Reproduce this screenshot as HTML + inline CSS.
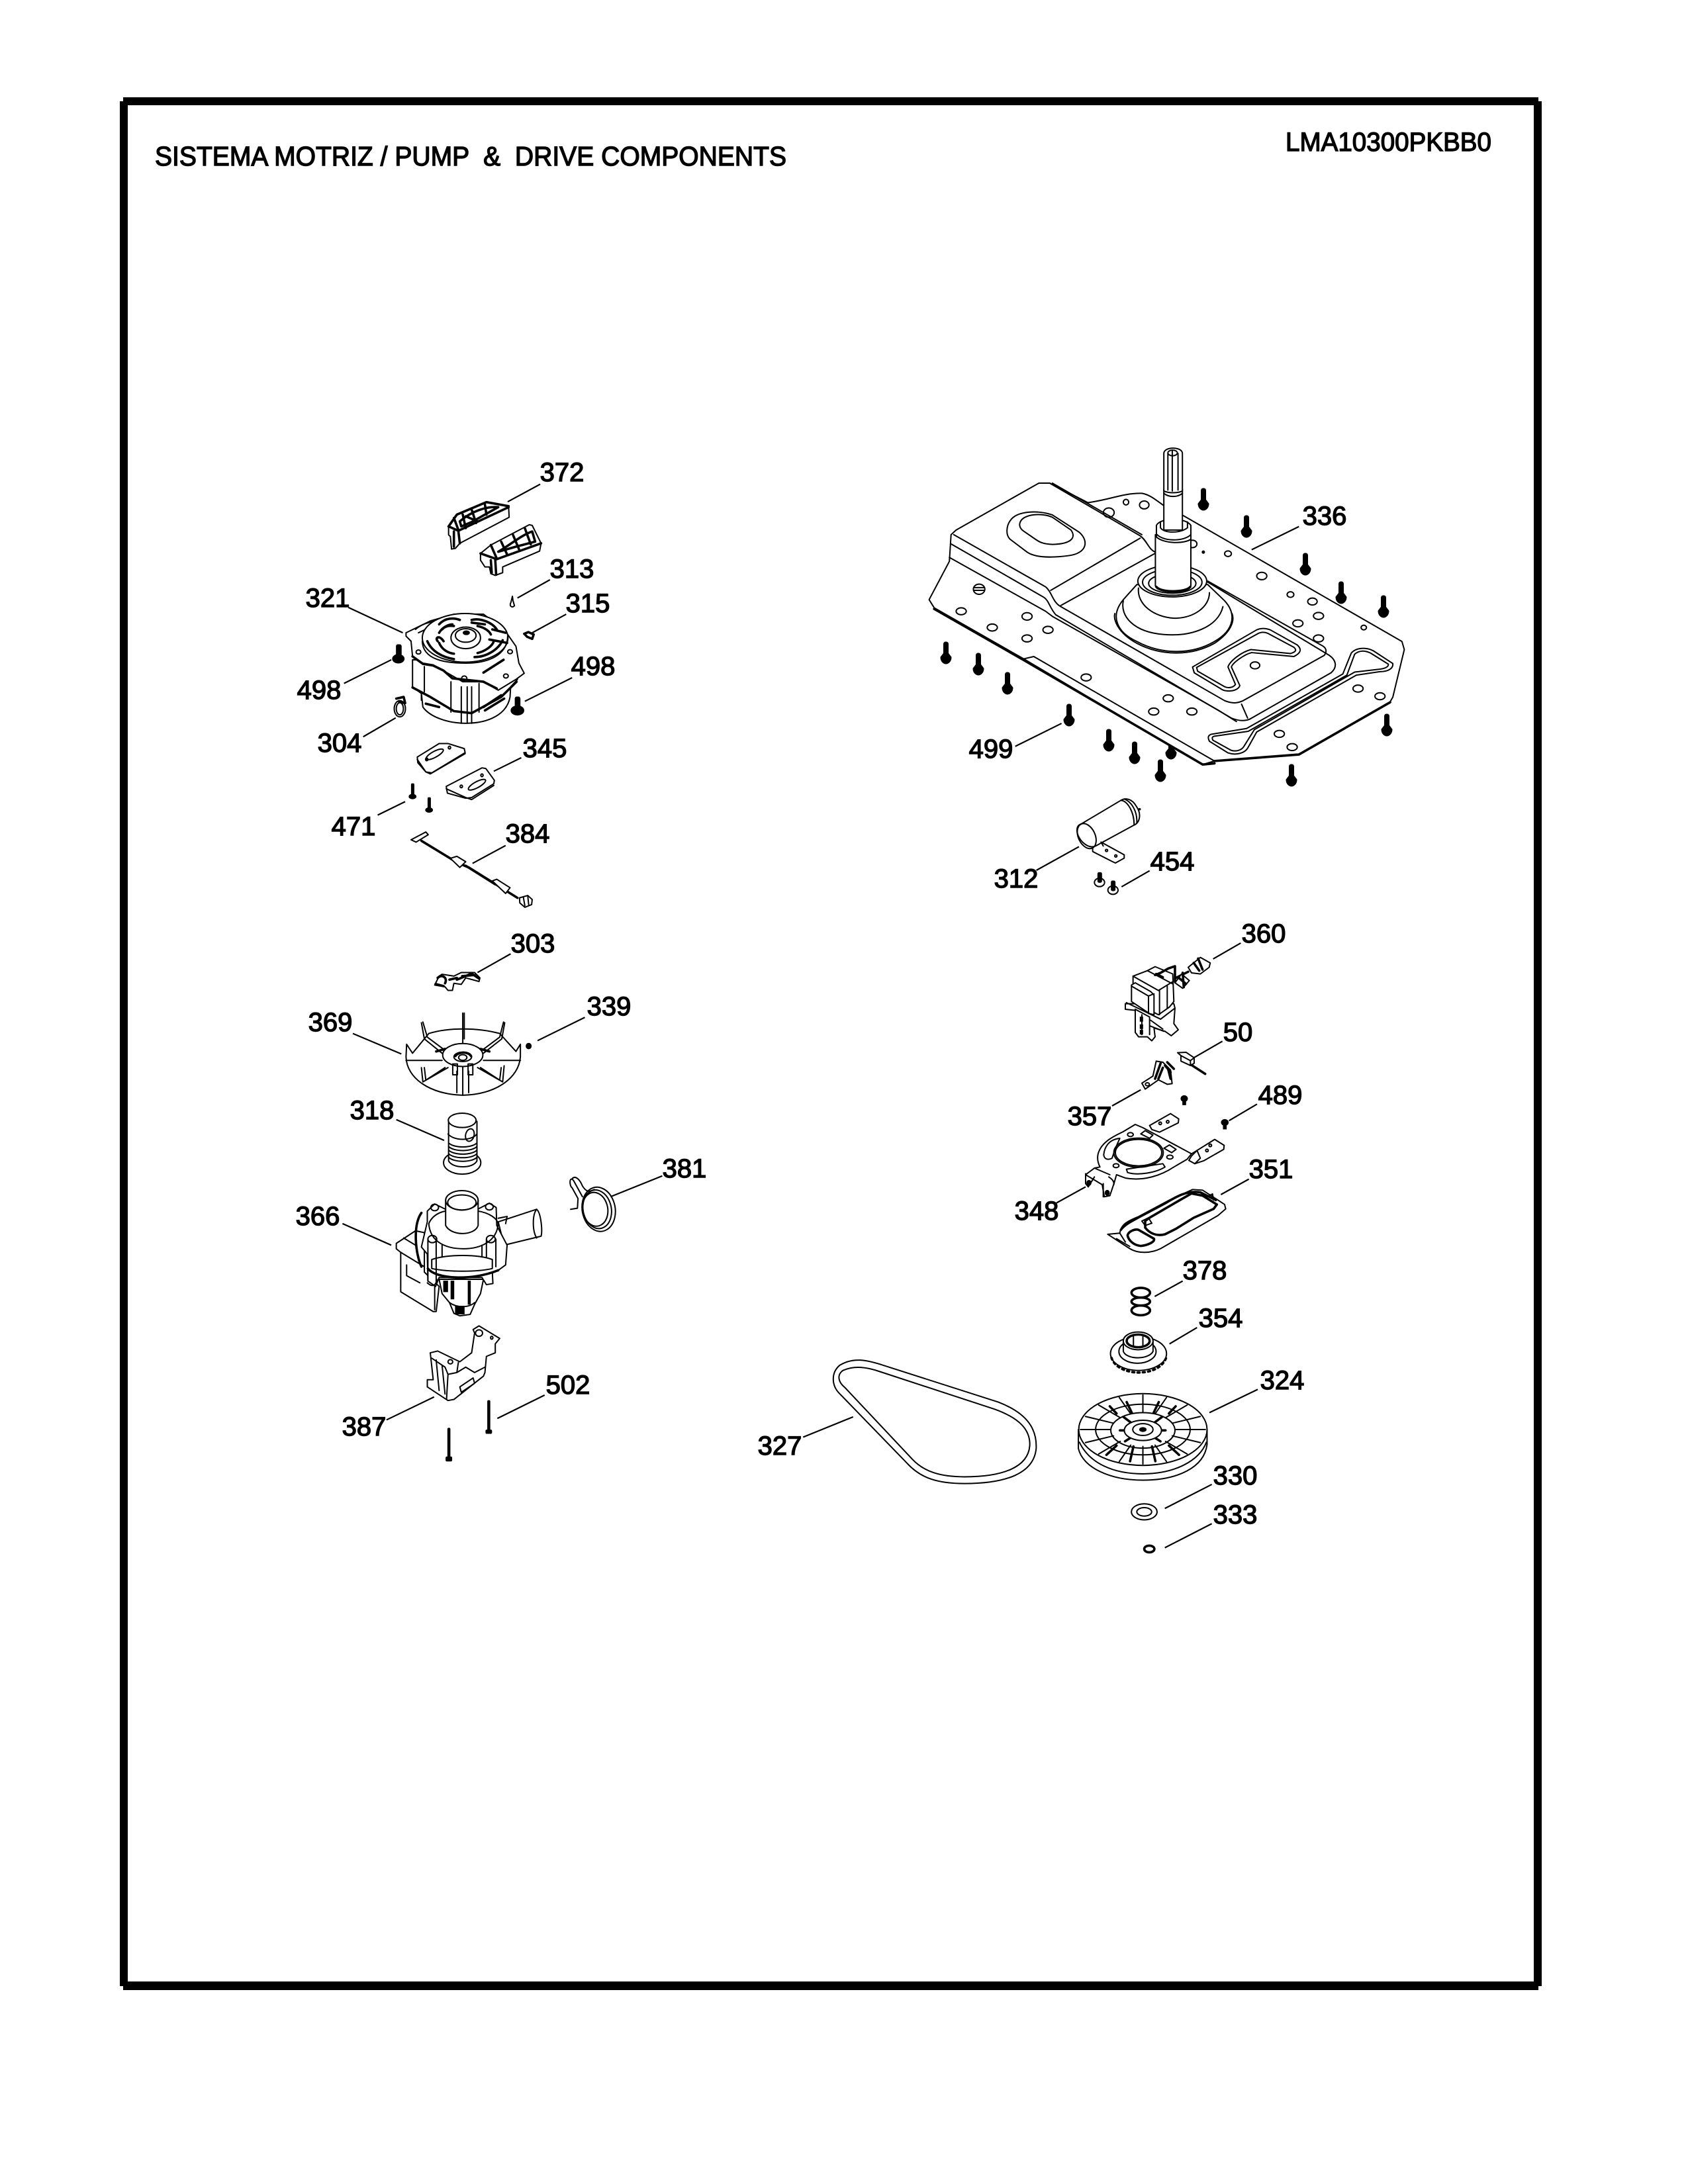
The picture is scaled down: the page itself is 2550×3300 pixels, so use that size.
<!DOCTYPE html>
<html><head><meta charset="utf-8"><style>
html,body{margin:0;padding:0;background:#fff}
svg{display:block}
.l,.l *{fill:#fff;stroke:#000;stroke-width:2;stroke-linejoin:round;stroke-linecap:round;vector-effect:non-scaling-stroke}
.n,.n *{fill:none;stroke:#000;stroke-width:2;stroke-linejoin:round;stroke-linecap:round;vector-effect:non-scaling-stroke}
.b,.b *{fill:none;stroke:#000;stroke-width:3.6;stroke-linejoin:round;stroke-linecap:round;vector-effect:non-scaling-stroke}
.k,.k *{fill:#000;stroke:#000;stroke-width:1;vector-effect:non-scaling-stroke}
text{font-family:"Liberation Sans",Arial,sans-serif;fill:#000;stroke:#000;stroke-width:1.4}
.t{font-size:40px;text-anchor:middle}
</style></head><body>
<svg width="2550" height="3300" viewBox="0 0 2550 3300" xmlns="http://www.w3.org/2000/svg">
<defs>
<g id="s" class="k"><rect x="-3.5" y="-17" width="7" height="20" rx="3"/><path d="M-3.5,0 L-8,6 C-8,13 -3,16 0,16 C3,16 8,13 8,6 L3.5,0 Z"/></g>
</defs>
<rect width="2550" height="3300" fill="#fff"/>
<!-- frame -->
<g fill="#000"><rect x="186" y="147" width="2138" height="12"/><rect x="181" y="153" width="12" height="2848"/><rect x="2317" y="153" width="12" height="2848"/><rect x="186" y="2994" width="2138" height="13"/></g>
<text x="234" y="250" font-size="41" textLength="954" lengthAdjust="spacingAndGlyphs" xml:space="preserve">SISTEMA MOTRIZ / PUMP  &amp;  DRIVE COMPONENTS</text>
<text x="1942" y="228" font-size="40" textLength="311" lengthAdjust="spacingAndGlyphs">LMA10300PKBB0</text>

<!-- screws behind plate -->
<use href="#s" x="1769" y="1131"/>

<!-- PLATE 336 -->
<g transform="translate(1350,650) scale(.5102,.3508)">
<g class="l"><path d="M430,228 L462,228 L575,312 C640,300 680,270 735,272 C760,278 780,305 800,325 L860,370 L1505,910 L1512,945 L1478,1150 L1470,1170 L1200,1395 L950,1425 L915,1440 L385,985 L120,765 L105,730 L165,565 L170,450 L185,430 Z"/></g>
<g class="n">
<path d="M170,490 L445,720 C460,735 462,765 480,795 L1000,1240 C1030,1258 1050,1250 1060,1240 L1295,1045 C1315,1020 1310,990 1290,970 L925,650"/>
<path d="M165,548 L450,780 L470,802 L960,1205 L1015,1255"/>
<path d="M178,450 L450,675 C470,700 470,740 495,760 L980,1165 C1005,1180 1020,1175 1035,1165 L1275,970 C1285,950 1280,935 1265,925 L930,650"/>
<path d="M465,690 L730,465"/><path d="M495,755 L775,530"/>
<path d="M462,228 L730,455 C750,475 755,515 775,525"/>
<path d="M470,228 L735,450"/><path d="M1030,1180 L1048,1240"/>
<path d="M345,390 C365,345 430,345 470,365 L550,440 C580,480 570,530 520,540 C470,550 420,550 395,525 L345,470 C330,450 335,410 345,390 Z"/>
<path d="M375,395 C385,360 440,355 470,375 L525,430 C540,460 530,490 470,492 C440,490 430,480 420,470 L385,435 C375,425 370,410 375,395 Z"/>
<path d="M885,1020 L1075,860 C1090,850 1105,855 1115,860 L1195,925 C1210,945 1205,960 1185,975 L1060,958 C1040,965 1005,1000 1000,1020 L1025,1100 C1020,1125 985,1130 970,1115 L890,1045 Z"/>
<path d="M897,1022 L1080,875 C1090,868 1100,870 1108,875 L1185,935 C1195,948 1190,955 1175,962 L1058,945 C1030,955 995,995 990,1020 L1012,1095 C1005,1110 990,1112 980,1105 L900,1038 Z"/>
<path d="M940,1310 L1045,1285 L1330,1050 L1355,960 C1370,935 1400,935 1420,950 L1478,1005 C1480,1030 1460,1040 1440,1040 L1370,1055 L1075,1300 L1050,1365 C1040,1395 1010,1400 990,1390 L935,1340 C930,1325 930,1315 940,1310 Z"/>
<path d="M950,1318 L1050,1297 L1342,1055 L1365,965 C1378,948 1395,948 1412,960 L1465,1008 C1465,1022 1450,1028 1435,1030 L1365,1042 L1068,1290 L1038,1360 C1030,1382 1010,1385 998,1378 L945,1335 C942,1325 943,1320 950,1318 Z"/>
<path d="M385,985 L415,975 L950,1425"/>
</g>
<g class="b"><path d="M120,770 L385,990 L915,1440 L950,1435"/><path d="M950,1425 L1200,1397 L1470,1172"/></g>
<g class="n">
<ellipse cx="688" cy="310" rx="8" ry="12"/><ellipse cx="742" cy="322" rx="14" ry="17"/><ellipse cx="885" cy="490" rx="13" ry="16"/><ellipse cx="990" cy="532" rx="10" ry="12"/><ellipse cx="1090" cy="628" rx="15" ry="16"/><ellipse cx="1175" cy="708" rx="10" ry="12"/><ellipse cx="1240" cy="738" rx="14" ry="15"/><ellipse cx="1258" cy="800" rx="15" ry="15"/><ellipse cx="1197" cy="832" rx="15" ry="15"/><ellipse cx="1258" cy="897" rx="15" ry="15"/><ellipse cx="1392" cy="850" rx="8" ry="10"/><ellipse cx="1070" cy="1013" rx="14" ry="15"/><ellipse cx="200" cy="780" rx="15" ry="15"/><ellipse cx="395" cy="802" rx="15" ry="16"/><ellipse cx="292" cy="850" rx="15" ry="15"/><ellipse cx="457" cy="860" rx="15" ry="15"/><ellipse cx="395" cy="897" rx="15" ry="15"/><ellipse cx="570" cy="1065" rx="15" ry="15"/><ellipse cx="813" cy="1155" rx="15" ry="15"/><ellipse cx="770" cy="1212" rx="15" ry="15"/><ellipse cx="883" cy="1212" rx="15" ry="15"/><ellipse cx="1375" cy="1113" rx="15" ry="15"/><ellipse cx="1440" cy="1146" rx="15" ry="15"/><ellipse cx="1142" cy="1308" rx="15" ry="15"/><ellipse cx="1180" cy="1365" rx="15" ry="15"/>
<ellipse cx="253" cy="685" rx="17" ry="22"/><path d="M237,678 L269,678 M237,690 L269,690"/><ellipse cx="637" cy="355" rx="16" ry="20"/>
</g>
<ellipse class="k" cx="917" cy="525" rx="4" ry="6"/>
<!-- bell -->
<g class="l"><path d="M720,665 L680,730 C640,800 660,870 720,910 C790,965 880,970 950,910 C1010,860 1015,790 980,735 L930,665 Z"/></g>
<g class="n"><path d="M655,790 C650,810 660,870 720,918 C790,972 880,975 950,918 C1000,870 1010,820 1002,790"/><path d="M680,735 C670,800 710,870 800,880 C880,890 960,850 975,760"/><path d="M725,680 C720,750 770,805 830,810 C890,810 935,760 935,700"/></g>
<ellipse class="l" cx="825" cy="650" rx="102" ry="68"/>
<ellipse class="n" cx="825" cy="655" rx="88" ry="56"/><ellipse class="n" cx="825" cy="660" rx="70" ry="42"/>
<!-- shaft -->
<g class="l"><path d="M775,450 L775,670 C780,705 870,705 880,670 L880,440 Z"/></g>
<path class="n" d="M778,675 C790,700 865,700 878,675" style="stroke-width:3.6px"/>
<g class="l"><path d="M778,410 C790,375 865,375 880,410 L880,470 C860,490 800,490 778,460 Z"/></g>
<g class="n" style="stroke-width:3px"><path d="M790,420 C800,445 850,445 870,420"/><path d="M790,420 L790,395 M870,420 L870,395"/></g>
<g class="l"><rect x="800" y="255" width="55" height="175"/><path d="M800,100 C800,70 855,70 855,100 L855,262 C840,272 815,272 800,262 Z"/></g>
<g class="n"><path d="M812,100 L812,258 M825,90 L825,262 M842,100 L842,258"/><ellipse cx="826" cy="98" rx="14" ry="12"/><path d="M800,272 C815,290 840,290 855,272"/><path d="M780,450 C800,480 860,480 880,450"/></g>
</g>
<g>
<use href="#s" x="1818" y="755"/><use href="#s" x="1883" y="796"/><use href="#s" x="1972" y="853"/><use href="#s" x="2026" y="896"/><use href="#s" x="2090" y="917"/><use href="#s" x="1429" y="987"/><use href="#s" x="1478" y="1004"/><use href="#s" x="1522" y="1033"/><use href="#s" x="1615" y="1081"/><use href="#s" x="1675" y="1119"/><use href="#s" x="1714" y="1138"/><use href="#s" x="1753" y="1165"/><use href="#s" x="1951" y="1172"/><use href="#s" x="2095" y="1096"/>
</g>

<!-- LEFT TOP (zoom1 coords) -->
<g transform="translate(400,650) scale(.4464,.5102)">
<!-- 372 magnets -->
<g class="l"><path d="M622,285 L650,250 L750,213 L825,225 L827,258 L660,335 L645,350 L632,352 L628,315 L622,310 Z"/><path d="M730,365 L765,340 L895,280 L905,282 L935,335 L930,358 L805,405 L805,422 L780,430 L765,425 L760,405 L745,405 L730,385 Z"/></g>
<g class="b"><path d="M622,285 L655,298 L825,228"/><path d="M622,285 L650,250 L750,213 L825,225"/><path d="M660,270 C700,240 750,225 790,228 L700,272 L665,285 Z"/><path d="M640,260 L655,295 M670,250 L680,290 M700,235 L715,275 M745,220 L750,250 M680,255 L720,270 M640,300 L640,345 M655,298 L660,335"/>
<path d="M730,365 L785,382 L935,335"/><path d="M765,340 L785,380 M800,330 L820,368 M840,310 L860,352 M880,290 L900,338"/><path d="M790,360 C830,340 870,310 905,300 L915,330 L850,345 Z"/><path d="M765,385 L768,422 M780,385 L783,428"/></g>
<!-- 313 -->
<g class="n"><path d="M838,492 L833,510 C826,520 836,528 845,520 L840,505 Z"/></g>
<!-- 315 -->
<g class="b"><path d="M878,603 L892,598 L910,605 L905,618 L888,612 L878,603"/></g>
<!-- motor -->
<g class="l"><path d="M500,680 L500,760 L530,780 L535,820 C560,850 620,868 680,868 C760,868 820,840 830,790 L832,760 L855,738 L850,690 Z"/></g>
<g class="n"><path d="M540,700 L540,775 M630,745 L630,835 M665,760 L665,868 M685,760 L685,868 M700,760 L700,868 M725,750 L725,835 M650,690 L650,730 M700,690 L700,730 M530,780 L530,800"/></g>
<g class="b"><path d="M500,762 L560,790 L640,832 L700,838 L800,790 L852,745"/><path d="M740,820 L800,785 M745,830 L810,795"/><path d="M545,810 L590,820"/></g>
<g class="l"><path d="M478,600 L560,565 L640,545 L740,545 L810,590 L850,640 L860,690 L878,720 L850,738 L790,770 L740,745 L670,745 L600,710 L570,695 L535,690 L500,670 L495,625 L478,610 Z"/></g>
<g class="n"><path d="M510,590 C530,575 550,570 580,565"/><path d="M520,600 L580,575"/><ellipse cx="520" cy="657" rx="8" ry="6"/><ellipse cx="830" cy="656" rx="8" ry="6"/><ellipse cx="816" cy="728" rx="8" ry="6"/><ellipse cx="675" cy="735" rx="9" ry="7"/></g>
<g class="b"><path d="M500,670 L535,692 L570,697 L605,712 L635,735 L740,745 L785,765"/><path d="M740,718 L808,680"/></g>
<ellipse class="l" cx="678" cy="615" rx="145" ry="72"/>
<g class="n"><path d="M533,625 C535,680 610,690 680,690 C750,690 820,670 822,610"/></g>
<g class="b"><path d="M590,575 C610,555 640,555 660,562"/><path d="M700,562 C730,555 770,570 785,590"/><path d="M550,625 C565,655 600,672 640,678"/><path d="M710,672 C750,672 790,650 805,622"/><path d="M590,600 C600,585 620,575 635,575"/><path d="M600,590 C610,580 625,578 640,580"/><path d="M720,580 C745,585 760,595 765,605"/><path d="M590,630 C600,650 620,660 640,662"/><path d="M720,660 C745,655 770,640 775,625"/><path d="M585,625 C575,615 590,605 605,625"/><path d="M760,620 L820,630 M770,590 L815,600"/><path d="M700,570 L745,575"/></g>
<ellipse class="l" cx="680" cy="615" rx="50" ry="32"/><ellipse class="l" cx="680" cy="608" rx="35" ry="20"/><ellipse class="k" cx="682" cy="600" rx="11" ry="6"/>
<!-- flat bolts 498 -->
<g class="k"><rect x="445" y="635" width="17" height="40" rx="5"/><ellipse cx="452" cy="677" rx="20" ry="13"/><rect x="847" y="790" width="17" height="40" rx="5"/><ellipse cx="855" cy="830" rx="22" ry="14"/></g>
<!-- 304 clamp -->
<g class="n"><ellipse cx="457" cy="825" rx="19" ry="24"/><ellipse cx="457" cy="825" rx="12" ry="18"/></g>
<g class="b"><path d="M445,795 L470,790 L475,808 L455,805"/></g>
<!-- 345 pads -->
<g class="l"><path d="M516,968 L590,928 L620,928 L675,943 L678,955 L565,1015 L545,1012 L518,985 Z"/><path d="M614,1055 L735,1000 L748,1002 L777,1037 L775,1047 L700,1088 L680,1090 L618,1075 Z"/></g>
<g class="n"><ellipse cx="575" cy="960" rx="32" ry="9" transform="rotate(-25 575 960)"/><ellipse cx="718" cy="1050" rx="32" ry="9" transform="rotate(-25 718 1050)"/><path d="M516,975 L545,1012 L560,1018 L678,958"/><path d="M614,1062 L680,1088 L700,1094 L775,1052"/><circle cx="548" cy="975" r="4"/><circle cx="625" cy="940" r="4"/><circle cx="665" cy="1055" r="4"/><circle cx="735" cy="1022" r="4"/></g>
<!-- 471 screws -->
<g class="k"><rect x="496" y="1047" width="9" height="40" rx="3"/><ellipse cx="500" cy="1085" rx="12" ry="7"/><rect x="552" y="1088" width="9" height="40" rx="3"/><ellipse cx="556" cy="1125" rx="12" ry="7"/></g>
<!-- 384 harness -->
<g class="l"><path d="M495,1213 L545,1190 L553,1198 L512,1220 Z"/></g>
<g class="b"><path d="M530,1216 L650,1280 L690,1295 L800,1355 L855,1385"/><path d="M680,1290 L780,1345"/></g>
<g class="l"><path d="M628,1268 L650,1262 L680,1278 L660,1295 Z"/><path d="M770,1335 L785,1330 L830,1355 L815,1372 Z"/><path d="M862,1385 L890,1378 L905,1390 L903,1405 L880,1413 L863,1400 Z"/></g>
<g class="n"><path d="M875,1383 L880,1408 M890,1380 L893,1405"/></g>
</g>

<!-- LEFT BOTTOM (zoom2 coords) -->
<g transform="translate(400,1380) scale(.4464,.5421)">
<!-- 303 -->
<g class="l"><path d="M575,200 L590,175 L600,170 L640,175 L665,165 L710,165 L728,180 L725,190 L680,180 L665,198 L640,195 L635,215 L620,215 L610,205 Z"/></g>
<g class="b"><path d="M585,180 C600,168 620,180 610,195 M650,185 L700,168 L725,182 M668,175 L710,172 M625,185 L650,180 M578,197 L605,203"/></g>
<!-- fan 369 -->
<g class="l"><path d="M480,365 L500,390 L555,335 C620,318 720,318 795,335 L850,385 L865,365 L865,400 C860,460 780,505 670,507 C560,505 480,460 478,400 Z"/></g>
<g class="n">
<path d="M670,278 L670,505 M675,278 L675,350"/>
<path d="M535,303 L550,345 L610,382 M530,305 L540,350 L600,390"/>
<path d="M808,303 L795,345 L735,382 M812,305 L802,350 L740,390"/>
<path d="M478,410 L600,410 M865,410 L740,410"/>
<path d="M530,430 L535,470 L620,430 M540,430 L545,465 L610,430"/>
<path d="M810,425 L805,470 L720,430 M800,430 L795,465 L730,430"/>
<path d="M650,440 L650,500 M690,440 L690,500"/>
</g>
<ellipse class="l" cx="670" cy="395" rx="68" ry="32"/>
<g class="b"><path d="M580,385 L610,378 M730,378 L760,385"/><path d="M645,398 C655,385 690,385 698,398"/></g>
<g class="n"><ellipse cx="670" cy="400" rx="30" ry="13"/><ellipse cx="670" cy="402" rx="14" ry="8"/><rect x="636" y="420" width="16" height="30"/><rect x="688" y="420" width="16" height="30"/></g>
<!-- 339 -->
<ellipse class="k" cx="893" cy="370" rx="9" ry="8"/>
<!-- 318 -->
<g class="l"><ellipse cx="668" cy="695" rx="63" ry="32"/><path d="M622,580 L622,690 C635,712 705,712 718,690 L718,580 Z"/><ellipse cx="668" cy="577" rx="47" ry="20"/></g>
<g class="n"><path d="M620,615 C640,635 700,635 718,615"/><ellipse cx="694" cy="618" rx="14" ry="18" transform="rotate(25 694 618)"/></g>
<g class="n"><path d="M622,640 C640,655 700,655 718,640 M622,650 C640,665 700,665 718,650 M622,660 C640,675 700,675 718,660 M622,670 C640,685 700,685 718,670 M622,680 C640,695 700,695 718,680"/></g>
<!-- 381 -->
<g class="n"><path d="M1075,790 L1045,745 C1030,730 1030,760 1040,765 L1060,795 L1058,822 L1035,825"/><path d="M1040,740 C1050,730 1065,740 1075,760 C1090,780 1100,775 1115,770"/><ellipse cx="1130" cy="825" rx="55" ry="63" transform="rotate(-25 1130 825)"/><ellipse cx="1125" cy="825" rx="47" ry="55" transform="rotate(-25 1125 825)"/><ellipse cx="1118" cy="825" rx="42" ry="48" transform="rotate(-25 1118 825)"/></g>
<!-- pump 366 -->
<g class="l"><path d="M445,920 L510,885 L540,890 L540,1000 L590,1040 L580,1110 L570,1110 L460,1055 L460,945 L445,935 Z"/></g>
<g class="n"><path d="M460,945 L540,985 M480,980 L480,1010 L525,1030 M575,1040 L575,1105 M470,905 L510,925"/></g>
<g class="l"><path d="M790,860 L920,825 C935,835 940,885 935,900 L810,925 Z"/></g>
<g class="n"><path d="M920,825 C905,840 905,885 920,905 M790,850 L820,845 L815,865"/></g>
<g class="l"><path d="M590,1020 L740,1020 L730,1060 L710,1090 L695,1118 L660,1122 L640,1115 L625,1085 L600,1060 Z"/></g>
<g class="n"><path d="M625,1085 C650,1100 690,1100 710,1085"/></g>
<g class="k"><rect x="630" y="1025" width="10" height="50"/><rect x="688" y="1025" width="8" height="65"/><rect x="605" y="1025" width="14" height="30"/><rect x="645" y="1095" width="30" height="22"/></g>
<g class="l"><path d="M550,860 L550,830 L575,810 L612,825 L720,825 L760,808 L783,820 L785,870 L820,925 L815,980 L790,995 L770,1000 L772,1032 L750,1035 L735,1015 L590,1015 L578,1040 L552,1025 L550,950 L530,930 Z"/></g>
<g class="n"><path d="M555,865 C560,920 620,935 672,935 C730,935 785,915 790,865"/><path d="M555,865 C570,835 610,830 612,830 M722,830 C760,835 785,850 790,865"/><path d="M565,965 C620,950 720,950 770,965 L770,990 C720,1000 620,1000 565,990 Z"/><path d="M600,925 L600,958 M735,925 L735,958"/><ellipse cx="567" cy="908" rx="15" ry="10"/><ellipse cx="765" cy="908" rx="15" ry="10"/><ellipse cx="575" cy="820" rx="13" ry="9"/><ellipse cx="760" cy="818" rx="13" ry="9"/><path d="M552,908 L552,1025 M580,908 L580,1030 M750,908 L750,960 M782,908 L782,985 M550,1030 C570,1045 580,1035 582,1020"/></g>
<g class="b"><path d="M530,835 C500,870 510,950 530,985 M552,990 C580,1020 700,1025 790,995"/></g>
<g class="l"><path d="M612,800 L612,870 C630,900 710,900 722,870 L722,800 Z"/><ellipse cx="667" cy="800" rx="55" ry="27"/></g>
<ellipse class="n" cx="667" cy="806" rx="48" ry="21"/>
<!-- 387 bracket -->
<g class="l"><path d="M705,1160 L725,1150 L795,1185 L780,1200 L780,1225 L750,1235 L745,1280 L740,1290 L640,1355 L620,1358 L550,1320 L550,1300 L570,1300 L560,1225 L585,1220 L660,1250 L700,1225 L710,1170 Z"/></g>
<g class="n"><ellipse cx="725" cy="1170" rx="12" ry="9"/><circle cx="768" cy="1183" r="4"/><ellipse cx="628" cy="1250" rx="8" ry="6"/><path d="M655,1252 L650,1280 L620,1285 L615,1355 M565,1240 L610,1265 L620,1285 M580,1245 L590,1330 M600,1260 L610,1340 M710,1280 L745,1265 M660,1320 L705,1295 L710,1310 L665,1335 Z M650,1280 L680,1265 L710,1280"/></g>
<!-- 502 screws -->
<g class="k"><rect x="754" y="1358" width="8" height="85" rx="3"/><rect x="748" y="1440" width="20" height="10" rx="3"/><rect x="619" y="1435" width="8" height="85" rx="3"/><rect x="613" y="1515" width="20" height="12" rx="3"/></g>
</g>

<!-- 312, 454, 360, 50 (zoom9 coords) -->
<g transform="translate(1480,1150) scale(.3333)">
<g class="l"><path d="M512,385 L550,367 L655,425 L655,440 L615,462 L600,455 L512,410 Z"/><path d="M460,285 L640,178 C660,165 690,170 710,205 C735,240 725,280 700,290 L525,385 C490,400 450,360 442,325 C438,300 445,290 460,285 Z"/></g>
<g class="n"><ellipse cx="485" cy="340" rx="38" ry="60" transform="rotate(-25 485 340)"/><path d="M640,178 C670,180 700,230 700,290"/><path d="M655,172 C690,185 715,230 712,280 M550,367 L560,385"/><circle cx="575" cy="405" r="5"/><circle cx="617" cy="430" r="5"/></g>
<circle class="k" cx="725" cy="218" r="4"/>
<g class="l"><ellipse cx="543" cy="550" rx="23" ry="19"/><ellipse cx="604" cy="585" rx="23" ry="19"/></g>
<g class="k"><rect x="535" y="505" width="18" height="45" rx="6"/><rect x="596" y="543" width="18" height="45" rx="6"/></g>
<!-- 360 solenoid -->
<g class="l"><path d="M660,1100 L880,1100 L885,1120 L880,1190 L900,1218 L868,1245 L840,1225 L790,1210 L795,1250 L780,1268 L760,1250 L720,1250 L705,1230 L705,1130 L660,1125 Z"/></g>
<g class="n"><path d="M665,1095 L820,1170 L885,1120 M705,1125 L770,1160 L770,1240 M735,1150 L735,1240 M770,1200 L835,1225 M775,1175 L830,1215"/></g>
<g class="k"><rect x="727" y="1160" width="12" height="20"/><rect x="727" y="1195" width="12" height="18"/><rect x="727" y="1220" width="12" height="18"/></g>
<g class="l"><path d="M695,975 L760,950 L795,932 L875,965 L880,1090 L860,1115 L810,1150 L695,1090 Z"/></g>
<g class="n"><path d="M695,975 L810,1040 L875,1000 M760,950 L875,1010 M815,1040 L815,1150 M850,1020 L850,1120"/></g>
<g class="l"><path d="M688,1015 L705,1005 L775,1045 L790,1060 L790,1150 L770,1145 L688,1090 Z"/></g>
<g class="n"><path d="M688,1020 L765,1065 L765,1145 M765,1065 L790,1055"/></g>
<g class="b"><path d="M795,970 L820,960 L855,940 L885,930 L885,1000 M885,985 L945,955"/><path d="M800,965 L830,980"/></g>
<g class="l"><path d="M885,1005 L915,965 L950,995 L920,1030 Z"/><path d="M945,935 L1000,890 L1045,915 L1040,935 L1000,965 L960,960 Z"/></g>
<g class="b"><path d="M905,985 L935,1010 M920,960 L925,1025 M970,915 L995,950 M990,895 L1010,945"/></g>
<!-- 50 -->
<g class="l"><path d="M897,1322 L935,1320 L972,1345 L972,1370 L955,1380 L912,1360 L912,1335 Z"/></g>
<g class="n"><path d="M912,1335 L955,1358 L955,1380 M955,1358 L972,1345"/></g>
<g class="b"><path d="M960,1378 L1022,1418"/></g>
</g>

<!-- 357, 489, 348, 351, 378 (zoom10 coords) -->
<g transform="translate(1560,1600) scale(.3333)">
<g class="l"><path d="M495,110 L545,78 L560,10 L590,15 L625,50 L632,112 L610,115 L570,95 L510,137 Z"/></g>
<g class="n"><ellipse cx="520" cy="115" rx="9" ry="7"/></g>
<g class="b"><path d="M555,90 L580,20 M570,90 L590,40 M600,30 L625,60 M610,15 L640,45 M615,50 L625,90"/></g>
<g class="k"><ellipse cx="687" cy="180" rx="15" ry="14"/><rect x="680" y="180" width="14" height="28"/><ellipse cx="871" cy="288" rx="16" ry="14"/><rect x="864" y="288" width="14" height="30"/></g>
<!-- 348 -->
<g class="l"><path d="M530,302 L625,248 L662,272 L660,290 L575,332 L540,320 Z"/><path d="M745,415 L825,365 L868,392 L866,410 L775,462 L735,475 L708,460 L720,440 Z"/><path d="M300,420 C320,370 380,345 410,330 L465,297 L500,312 L720,430 L700,455 L640,490 C580,530 500,555 420,540 L380,525 L370,560 L350,620 L325,625 L315,570 L240,525 L280,495 L305,490 C295,470 290,445 300,420 Z"/></g>
<g class="n"><ellipse cx="480" cy="425" rx="112" ry="66"/><ellipse cx="480" cy="425" rx="105" ry="60"/><ellipse cx="443" cy="343" rx="13" ry="9"/><ellipse cx="378" cy="484" rx="13" ry="9"/><ellipse cx="622" cy="445" rx="14" ry="9"/><path d="M322,435 C325,400 345,365 395,360 L375,405 L360,450 C340,460 325,455 322,435 Z"/><path d="M490,340 L510,325 L545,345 L530,360 Z"/><path d="M595,405 L620,390 L650,410 L630,425 Z"/><path d="M425,500 L590,475 L600,490 C560,515 480,530 430,515 Z"/><path d="M240,520 L240,565 L252,580 L280,535 M280,495 L350,525 M320,565 L320,625 M345,535 C360,545 370,555 368,570"/><path d="M720,430 L745,415 L760,450 L735,475"/><circle cx="578" cy="292" r="6"/><circle cx="612" cy="285" r="6"/><circle cx="805" cy="392" r="6"/><circle cx="790" cy="415" r="6"/></g>
<g class="k"><ellipse cx="255" cy="562" rx="10" ry="12"/><ellipse cx="338" cy="607" rx="10" ry="12"/></g>
<!-- 351 -->
<g class="l"><path d="M340,795 L395,790 C400,750 430,735 480,715 L620,640 L725,592 L770,595 L840,640 L870,660 L875,680 L840,710 L580,860 C540,880 480,885 440,860 Z"/></g>
<g class="b"><path d="M400,775 C420,745 470,725 600,655 C650,625 700,595 760,605 L830,640"/><path d="M510,765 C530,790 560,805 600,795 L650,770 L730,720 L820,680 L835,660 L770,620 L720,610 L650,650 L530,720 L510,735 Z"/><path d="M430,800 C435,780 465,770 480,775 L550,815 C555,830 520,845 490,848 C460,845 435,825 430,800 Z"/></g>
<g class="n"><path d="M495,735 L525,720 L540,745 L510,755 Z M790,625 L815,612 L820,640 M380,815 L440,850 M395,790 L420,830"/></g>
<!-- 378 spring -->
<g class="b" style="stroke-width:4px"><ellipse cx="490" cy="1060" rx="42" ry="22"/><ellipse cx="490" cy="1100" rx="42" ry="18"/><ellipse cx="490" cy="1140" rx="42" ry="22"/></g>
</g>

<!-- 327 belt, 354 gear, 324 pulley, 330, 333 (zoom4 coords) -->
<g transform="translate(1100,1350) scale(.5102,.6378)">
<g class="n">
<path d="M330,1118 C370,1098 410,1105 460,1118 L800,1205 C880,1230 915,1265 912,1315 C905,1375 820,1398 700,1398 C620,1398 570,1385 530,1350 L330,1185 C305,1165 305,1135 330,1118 Z"/>
<path d="M340,1130 C375,1118 410,1122 450,1133 L790,1222 C865,1244 895,1272 893,1308 C888,1360 812,1382 700,1382 C628,1382 580,1370 545,1340 L345,1170 C325,1157 322,1140 340,1130 Z"/>
</g>
<!-- 354 -->
<g class="l"><ellipse cx="1215" cy="1090" rx="83" ry="40"/></g>
<g class="b" style="stroke-dasharray:3 5;stroke-width:5px"><path d="M1135,1100 C1145,1125 1185,1135 1215,1135 C1250,1135 1285,1125 1297,1100"/></g>
<g class="n"><ellipse cx="1212" cy="1085" rx="55" ry="28"/></g>
<g class="l"><path d="M1170,1060 L1170,1085 C1180,1105 1245,1105 1258,1085 L1258,1060 Z"/><ellipse cx="1214" cy="1060" rx="44" ry="21"/></g>
<g class="b"><ellipse cx="1214" cy="1060" rx="34" ry="15"/></g>
<g class="n"><path d="M1200,1050 L1200,1072 M1228,1050 L1228,1072"/></g>
<!-- 324 -->
<g class="l"><path d="M1037,1270 L1037,1315 C1050,1360 1130,1390 1228,1390 C1330,1390 1410,1360 1418,1305 L1418,1270 Z"/><ellipse cx="1228" cy="1270" rx="190" ry="85"/></g>
<g class="n">
<path d="M1040,1300 C1070,1350 1140,1375 1228,1375 C1320,1375 1395,1345 1416,1300"/>
<ellipse cx="1228" cy="1270" rx="140" ry="60"/>
<ellipse cx="1228" cy="1272" rx="95" ry="42"/>
<path d="M1323,1270 L1413,1270 M1315,1285 L1398,1301 M1295,1298 L1359,1328 M1264,1307 L1298,1346 M1228,1310 L1228,1352 M1192,1307 L1158,1346 M1161,1298 L1097,1328 M1141,1285 L1058,1301 M1133,1270 L1043,1270 M1141,1255 L1058,1239 M1161,1242 L1097,1212 M1192,1233 L1158,1194 M1228,1230 L1228,1188 M1264,1233 L1298,1194 M1295,1242 L1359,1212 M1315,1255 L1398,1239"/>
</g>
<g class="b"><path d="M1130,1215 L1150,1232 M1325,1215 L1305,1232 M1180,1205 L1195,1230 M1275,1205 L1260,1230 M1120,1330 L1150,1308 M1335,1330 L1305,1308 M1190,1345 L1200,1310 M1265,1345 L1255,1310 M1170,1240 L1200,1258 M1285,1240 L1255,1258 M1160,1272 L1185,1272 M1295,1272 L1270,1272 M1175,1298 L1200,1285 M1280,1298 L1255,1285"/></g>
<ellipse class="l" cx="1228" cy="1272" rx="55" ry="24"/>
<ellipse class="n" cx="1228" cy="1270" rx="30" ry="14"/>
<ellipse class="k" cx="1228" cy="1270" rx="10" ry="5"/>
<!-- 330 / 333 -->
<g class="n"><ellipse cx="1232" cy="1465" rx="38" ry="19"/><ellipse cx="1232" cy="1465" rx="22" ry="10"/></g>
<ellipse class="b" cx="1247" cy="1553" rx="15" ry="8"/>
</g>

<!-- LEADERS -->
<g stroke="#000" stroke-width="2.2" fill="none">
<g transform="translate(400,650) scale(.4464,.5102)"><path vector-effect="non-scaling-stroke" d="M932,160 L822,212 M965,443 L855,497 M1020,545 L905,600 M283,525 L467,600 M428,680 L268,750 M1040,733 L880,803 M443,852 L333,908 M868,970 L775,1010 M475,1100 L382,1140 M815,1230 L703,1283"/></g>
<g transform="translate(400,1380) scale(.4464,.5421)"><path vector-effect="non-scaling-stroke" d="M832,113 L720,165 M1083,290 L923,355 M298,335 L462,392 M445,575 L607,633 M1345,732 L1170,790 M263,865 L428,925 M947,1343 L787,1408 M573,1348 L412,1412"/></g>
<g transform="translate(1350,650) scale(.5102,.3508)"><path vector-effect="non-scaling-stroke" d="M1200,415 L1060,515 M497,1263 L360,1362"/></g>
<g transform="translate(1480,1150) scale(.3333)"><path vector-effect="non-scaling-stroke" d="M450,388 L257,495 M770,497 L643,570 M1183,825 L1058,897 M1100,1270 L970,1345"/></g>
<g transform="translate(1560,1600) scale(.3333)"><path vector-effect="non-scaling-stroke" d="M490,140 L360,213 M1017,205 L890,280 M980,545 L853,615 M240,580 L108,653 M680,1007 L553,1077 M745,1218 L620,1292"/></g>
<g transform="translate(1100,1350) scale(.5102,.6378)"><path vector-effect="non-scaling-stroke" d="M370,1240 L222,1288 M1568,1175 L1425,1230 M1432,1400 L1293,1457 M1432,1493 L1293,1550"/></g>
</g>

<!-- LABELS -->
<g transform="translate(0,-2)">
<text class="t" x="849" y="729">372</text>
<text class="t" x="864" y="875">313</text>
<text class="t" x="888" y="927">315</text>
<text class="t" x="495" y="919">321</text>
<text class="t" x="482" y="1058">498</text>
<text class="t" x="896" y="1022">498</text>
<text class="t" x="513" y="1138">304</text>
<text class="t" x="823" y="1146">345</text>
<text class="t" x="534" y="1264">471</text>
<text class="t" x="797" y="1275">384</text>
<text class="t" x="805" y="1441">303</text>
<text class="t" x="920" y="1536">339</text>
<text class="t" x="499" y="1560">369</text>
<text class="t" x="562" y="1693">318</text>
<text class="t" x="1034" y="1781">381</text>
<text class="t" x="480" y="1853">366</text>
<text class="t" x="858" y="2108">502</text>
<text class="t" x="550" y="2171">387</text>
<text class="t" x="2001" y="795">336</text>
<text class="t" x="1497" y="1147">499</text>
<text class="t" x="1535" y="1343">312</text>
<text class="t" x="1771" y="1317">454</text>
<text class="t" x="1909" y="1426">360</text>
<text class="t" x="1870" y="1575">50</text>
<text class="t" x="1646" y="1702">357</text>
<text class="t" x="1934" y="1670">489</text>
<text class="t" x="1920" y="1782">351</text>
<text class="t" x="1566" y="1845">348</text>
<text class="t" x="1820" y="1935">378</text>
<text class="t" x="1844" y="2007">354</text>
<text class="t" x="1937" y="2101">324</text>
<text class="t" x="1178" y="2200">327</text>
<text class="t" x="1866" y="2245">330</text>
<text class="t" x="1866" y="2304">333</text>
</g>
</svg>
</body></html>
